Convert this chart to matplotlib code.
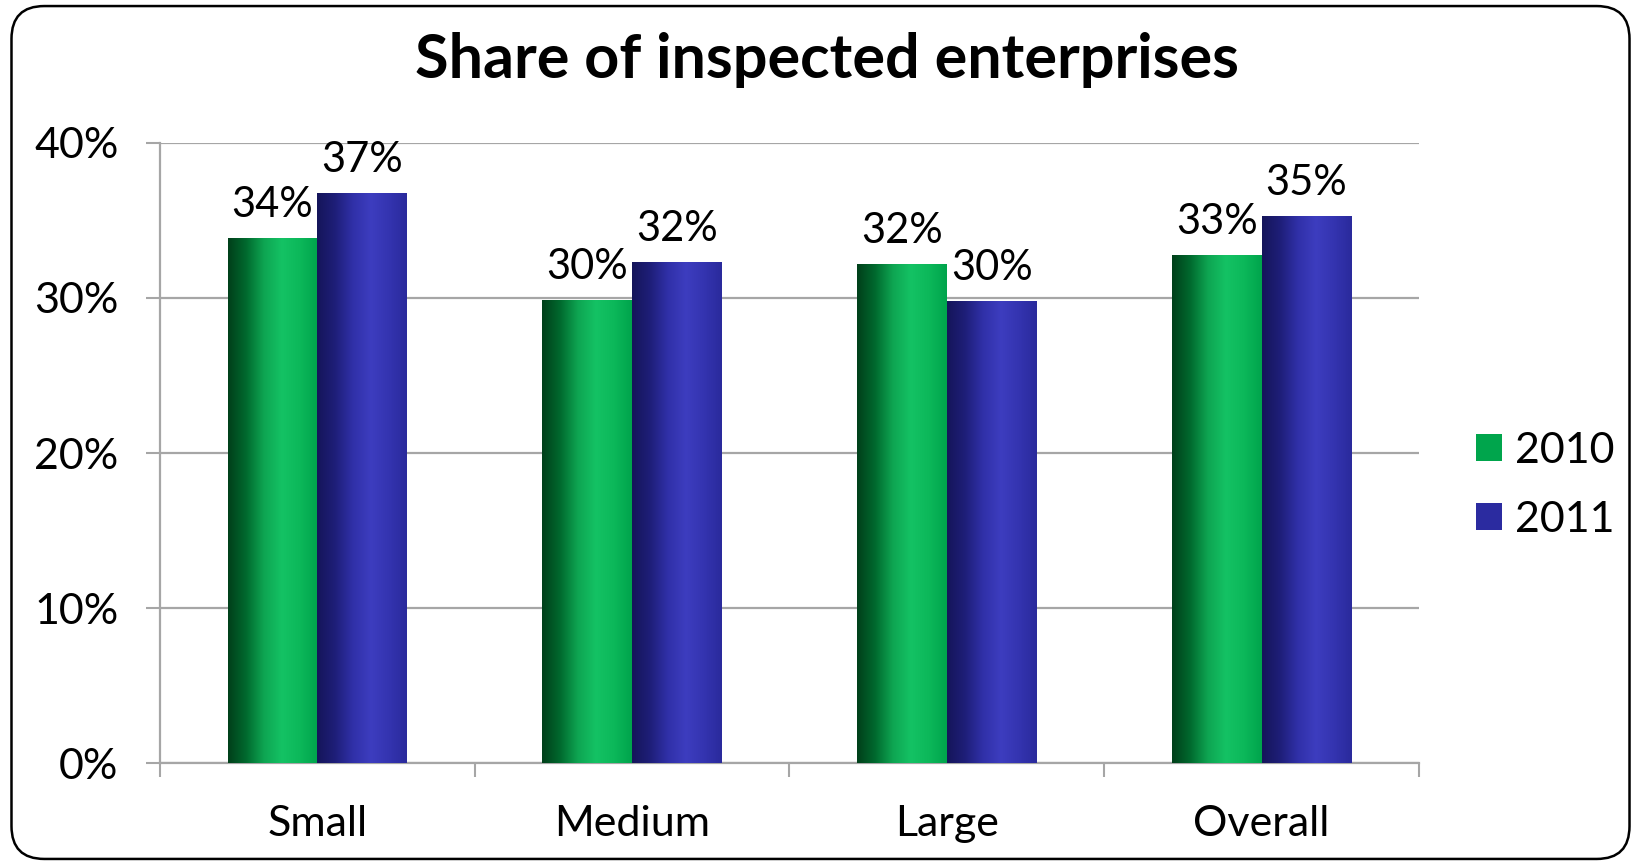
import numpy as np
import matplotlib
matplotlib.use("Agg")
import matplotlib.pyplot as plt
from matplotlib.patches import FancyBboxPatch, Patch
from matplotlib.colors import LinearSegmentedColormap

# Data
categories = ["Small", "Medium", "Large", "Overall"]
series_names = ["2010", "2011"]
values_2010 = [33.9, 29.9, 32.2, 32.8]
values_2011 = [36.8, 32.3, 29.8, 35.3]
y_ticks = [0, 10, 20, 30, 40]

title = "Share of inspected enterprises"

FONT = "Lato"
plt.rcParams["font.family"] = [FONT, "DejaVu Sans"]

# Horizontal "cylinder" shading for each series
green_stops = ["#003f1a", "#00692e", "#0ea552", "#14c264", "#0cb85a", "#00a44c"]
blue_stops = ["#15155a", "#1e1e78", "#3030a8", "#3d3dbf", "#3434b0", "#2a2a9c"]
legend_colors = ["#00a54c", "#2b2ba0"]

fig = plt.figure(figsize=(16.41, 8.65), dpi=100)
ax = fig.add_axes([0.0975, 0.1179, 0.7672, 0.7168])

x = np.arange(len(categories))
width = 0.285

def shaded_bars(xpos, vals, stops, offset):
    cmap = LinearSegmentedColormap.from_list("shade", stops)
    grad = np.linspace(0, 1, 256).reshape(1, -1)
    bars = ax.bar(xpos + offset, vals, width, color=stops[3], edgecolor="none", zorder=3)
    for b in bars:
        x0, w, h = b.get_x(), b.get_width(), b.get_height()
        im = ax.imshow(grad, cmap=cmap, aspect="auto", extent=[x0, x0 + w, 0, h],
                       interpolation="bicubic", zorder=4)
        im.set_clip_path(b)
    for xi, v in zip(xpos + offset, vals):
        ax.annotate(f"{v:.0f}%", (xi, v), xytext=(0, 10), textcoords="offset points",
                    ha="center", va="bottom", fontsize=30, color="black", zorder=5)
    return bars

shaded_bars(x, values_2010, green_stops, -width / 2)
shaded_bars(x, values_2011, blue_stops, width / 2)

ax.set_xlim(-0.5, len(categories) - 0.5)
ax.set_ylim(0, 40)

# y axis
ax.set_yticks(y_ticks)
ax.set_yticklabels([f"{t}%" for t in y_ticks])
ax.yaxis.grid(True, color="#a6a6a6", linewidth=1.6, zorder=0)
ax.set_axisbelow(True)
ax.tick_params(axis="y", length=10, width=1.5, color="#a6a6a6", pad=20, labelsize=31)

# x axis: tick marks at category boundaries, labels at centres
ax.set_xticks(np.arange(-0.5, len(categories), 1.0))
ax.set_xticklabels([])
ax.set_xticks(x, minor=True)
ax.set_xticklabels(categories, minor=True)
ax.tick_params(axis="x", which="major", length=10, width=1.5, color="#a6a6a6")
ax.tick_params(axis="x", which="minor", length=0, pad=30, labelsize=31)

for side in ["top", "right"]:
    ax.spines[side].set_visible(False)
for side in ["left", "bottom"]:
    ax.spines[side].set_color("#a6a6a6")
    ax.spines[side].set_linewidth(1.6)

# Legend
handles = [Patch(facecolor=c, edgecolor="none") for c in legend_colors]
ax.legend(handles, series_names, loc="center left", bbox_to_anchor=(1.032, 0.448),
          frameon=False, fontsize=31, handlelength=0.6, handleheight=0.6,
          handletextpad=0.3, labelspacing=0.72, borderaxespad=0)

fig.text(0.504, 0.931, title, ha="center", va="center", fontsize=44, fontweight="bold")

# Rounded frame around the whole chart
frame = FancyBboxPatch((0.007, 0.007), 0.986, 0.986, boxstyle="round,pad=0,rounding_size=0.02",
                       transform=fig.transFigure, facecolor="none", edgecolor="black",
                       linewidth=1.8, mutation_aspect=1641 / 865)
fig.patches.append(frame)

fig.savefig("out.png", dpi=100)
